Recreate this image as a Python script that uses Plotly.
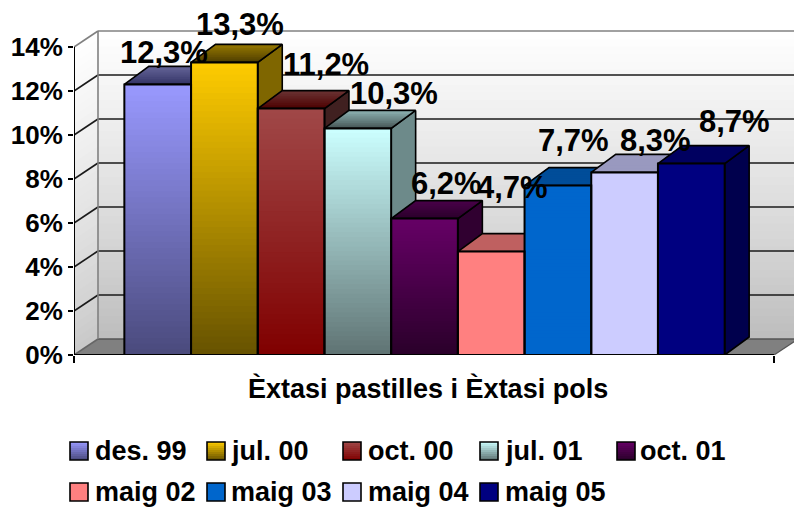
import plotly.graph_objects as go

# ---- data ----
periods = ["des. 99", "jul. 00", "oct. 00", "jul. 01", "oct. 01", "maig 02", "maig 03", "maig 04", "maig 05"]
values = [12.3, 13.3, 11.2, 10.3, 6.2, 4.7, 7.7, 8.3, 8.7]
value_labels = ["12,3%", "13,3%", "11,2%", "10,3%", "6,2%", "4,7%", "7,7%", "8,3%", "8,7%"]
y_ticks = [0, 2, 4, 6, 8, 10, 12, 14]
axis_title = "Èxtasi pastilles i Èxtasi pols"

# ---- styles ----
front_top = ["#9999ff", "#ffcc00", "#a04848", "#ccffff", "#660066", "#ff8080", "#0066cc", "#ccccff", "#000080"]
front_bot = ["#4a4a7c", "#665200", "#800000", "#5f7373", "#2a002a", "#ff8080", "#0066cc", "#ccccff", "#000080"]
top_back = ["#666699", "#997a00", "#6a3434", "#8fb5b5", "#4a004a", "#bf6060", "#004d99", "#9999bf", "#000060"]
top_front = ["#333366", "#4d3d00", "#4d0000", "#455555", "#2a002a", "#bf6060", "#004d99", "#9999bf", "#000060"]
side_col = ["#333366", "#7f6600", "#402020", "#6d8a8a", "#300030", "#bf6060", "#004d99", "#9999bf", "#00004d"]
label_dx = [6, 16, 35, 36, 22, 21, 16, 31, 43]
label_dy = [32, 38, 44, 35, 35, 64, 45, 32, 42]
legend_swatch_x = [70, 207, 343, 480, 617, 70, 207, 343, 480]
legend_text_x = [95, 231, 368, 505, 640, 95, 231, 368, 505]
legend_y = [451, 451, 451, 451, 451, 492, 492, 492, 492]

FONT = "Liberation Sans"
W, H = 794, 508
LEFT, BASE = 74, 355
PX_X, PX_Y = 66.7, 22.0
FRONT_W = 700
X0 = (LEFT - 157.7) / PX_X
X1 = X0 + (W - LEFT) / PX_X
Y1 = BASE / PX_Y
XF1 = X0 + FRONT_W / PX_X
BAR_DX, BAR_DY = 24.5 / PX_X, 18 / PX_Y
WALL_DX, WALL_DY = 24 / PX_X, 16 / PX_Y


def mix(a, b, t):
    ca = [int(a[i:i + 2], 16) for i in (1, 3, 5)]
    cb = [int(b[i:i + 2], 16) for i in (1, 3, 5)]
    return "rgb(%d,%d,%d)" % tuple(round(p + (q - p) * t) for p, q in zip(ca, cb))


fig = go.Figure()
shapes = []


def poly(pts, fill, line=None, width=0, layer="below"):
    path = "M " + " L ".join(f"{x},{y}" for x, y in pts) + " Z"
    s = dict(type="path", path=path, xref="x", yref="y", layer=layer, fillcolor=fill,
             line=dict(color=line or "rgba(0,0,0,0)", width=width))
    shapes.append(s)


def seg(x0, y0, x1, y1, color, width):
    shapes.append(dict(type="line", x0=x0, y0=y0, x1=x1, y1=y1, xref="x", yref="y", layer="below",
                       line=dict(color=color, width=width)))


# ---- walls with vertical gradient ----
TOP = y_ticks[-1]
WN = 40
for i in range(WN):
    a, b = TOP * i / WN, TOP
    t = (i + 0.5) / WN
    c = mix("#bcbcbc", "#ffffff", t ** 0.85)
    poly([(X0 + WALL_DX, a + WALL_DY), (X1, a + WALL_DY), (X1, b + WALL_DY), (X0 + WALL_DX, b + WALL_DY)], c)
    c2 = mix("#c8c8c8", "#ffffff", t ** 0.85)
    poly([(X0, a), (X0 + WALL_DX, a + WALL_DY), (X0 + WALL_DX, b + WALL_DY), (X0, b)], c2)
# floor
poly([(X0, 0), (XF1, 0), (XF1 + WALL_DX, WALL_DY), (X0 + WALL_DX, WALL_DY)], "#808080")
# grid lines on walls
for t in y_ticks:
    col = "#808080" if t in (0, TOP) else "#1a1a1a"
    seg(X0 + WALL_DX, t + WALL_DY, X1, t + WALL_DY, col if t else "#555555", 1.6)
    seg(X0, t, X0 + WALL_DX, t + WALL_DY, col if t else "#666666", 1.6)
seg(X0 + WALL_DX, WALL_DY, X0 + WALL_DX, TOP + WALL_DY, "#808080", 1.6)
seg(X0, 0, X0, TOP, "#000000", 2)

xs = list(range(len(values)))

# ---- side and top faces (behind the fronts) ----
for i, v in enumerate(values):
    l, r = i - 0.5, i + 0.5
    sx = [r, r + BAR_DX, r + BAR_DX, r, r]
    sy = [v, v + BAR_DY, BAR_DY, 0, v]
    fig.add_trace(go.Scatter(x=sx, y=sy, mode="lines", fill="toself", fillcolor=side_col[i],
                             line=dict(color="#000000", width=1.6), hoverinfo="skip", showlegend=False))
    TN = 10
    for k in range(TN):
        t0 = k / TN
        px = [l + BAR_DX * t0, r + BAR_DX * t0, r + BAR_DX, l + BAR_DX]
        py = [v + BAR_DY * t0, v + BAR_DY * t0, v + BAR_DY, v + BAR_DY]
        fig.add_trace(go.Scatter(x=px, y=py, mode="lines", fill="toself",
                                 fillcolor=mix(top_front[i], top_back[i], (k + 0.5) / TN),
                                 line=dict(width=0), hoverinfo="skip", showlegend=False))
    ox = [l, r, r + BAR_DX, l + BAR_DX, l]
    oy = [v, v, v + BAR_DY, v + BAR_DY, v]
    fig.add_trace(go.Scatter(x=ox, y=oy, mode="lines", line=dict(color="#000000", width=1.6),
                             hoverinfo="skip", showlegend=False))

# ---- front faces: overlaid bars, from full height down, for the gradient ----
BN = 48
for k in range(BN):
    frac = 1 - k / BN
    fig.add_trace(go.Bar(x=xs, y=[v * frac for v in values], width=1,
                         marker=dict(color=[mix(front_top[i], front_bot[i], (k + 0.5) / BN) for i in xs],
                                     line=dict(width=0)),
                         xaxis="x2", yaxis="y2", hoverinfo="skip", showlegend=False))
fig.add_trace(go.Bar(x=xs, y=values, width=1, customdata=periods,
                     marker=dict(color="rgba(0,0,0,0)", line=dict(color="#000000", width=2)),
                     xaxis="x2", yaxis="y2", showlegend=False,
                     hovertemplate="%{customdata}: %{y}%<extra></extra>"))

annotations = []
# value labels
for i, v in enumerate(values):
    annotations.append(dict(x=i, y=v, xref="x2", yref="y2", text=value_labels[i], showarrow=False,
                            xanchor="center", yanchor="middle", xshift=label_dx[i], yshift=label_dy[i],
                            font=dict(family=FONT, size=31, color="#000000", weight=700)))


def paper_x(px):
    return (px - LEFT) / (W - LEFT)


def paper_y(py):
    return (BASE - py) / BASE


annotations.append(dict(x=paper_x(428), y=paper_y(388), xref="paper", yref="paper", text=axis_title,
                        showarrow=False, xanchor="center", yanchor="middle",
                        font=dict(family=FONT, size=27, color="#000000", weight=700)))

# legend
SW = 18
for i, name in enumerate(periods):
    x, yc = legend_swatch_x[i], legend_y[i]
    top, bot = yc - 9, yc + 9
    n = 9
    for k in range(n):
        shapes.append(dict(type="rect", xref="paper", yref="paper", layer="above",
                           x0=paper_x(x), x1=paper_x(x + SW),
                           y0=paper_y(top + (bot - top) * k / n), y1=paper_y(bot),
                           fillcolor=mix(front_top[i], front_bot[i], (k + 0.5) / n), line=dict(width=0)))
    shapes.append(dict(type="rect", xref="paper", yref="paper", layer="above",
                       x0=paper_x(x), x1=paper_x(x + SW), y0=paper_y(top), y1=paper_y(bot),
                       fillcolor="rgba(0,0,0,0)", line=dict(color="#000000", width=1.6)))
    annotations.append(dict(x=paper_x(legend_text_x[i]), y=paper_y(yc), xref="paper", yref="paper", text=name,
                            showarrow=False, xanchor="left", yanchor="middle", xshift=-2,
                            font=dict(family=FONT, size=27, color="#000000", weight=700)))

# front baseline
shapes.append(dict(type="line", xref="x", yref="y", layer="below", x0=X0, x1=XF1, y0=0, y1=0,
                   line=dict(color="#000000", width=2)))
seg(XF1, 0, XF1 + WALL_DX, WALL_DY, "#555555", 1.2)

fig.update_layout(
    width=W, height=H, margin=dict(l=LEFT, r=0, t=0, b=H - BASE),
    paper_bgcolor="#ffffff", plot_bgcolor="#ffffff", barmode="overlay", showlegend=False,
    shapes=shapes, annotations=annotations,
    xaxis=dict(range=[X0, X1], showgrid=False, zeroline=False, showline=False,
               tickmode="array", tickvals=[X0, XF1], ticks="outside", ticklen=7, tickwidth=2,
               tickcolor="#000000", showticklabels=False),
    yaxis=dict(range=[0, Y1], showgrid=False, zeroline=False, showline=False,
               tickmode="array", tickvals=y_ticks, ticktext=[f"{t}%" for t in y_ticks],
               ticks="outside", ticklen=5, tickwidth=2, tickcolor="#000000",
               tickfont=dict(family=FONT, size=26, color="#000000", weight=700)),
    xaxis2=dict(range=[X0, X1], overlaying="x", anchor="y2", visible=False),
    yaxis2=dict(range=[0, Y1], overlaying="y", anchor="x2", visible=False),
)

fig.write_html("out.html", config={"displayModeBar": False},
               post_script="document.body.style.margin='0';document.body.style.overflow='hidden';")
